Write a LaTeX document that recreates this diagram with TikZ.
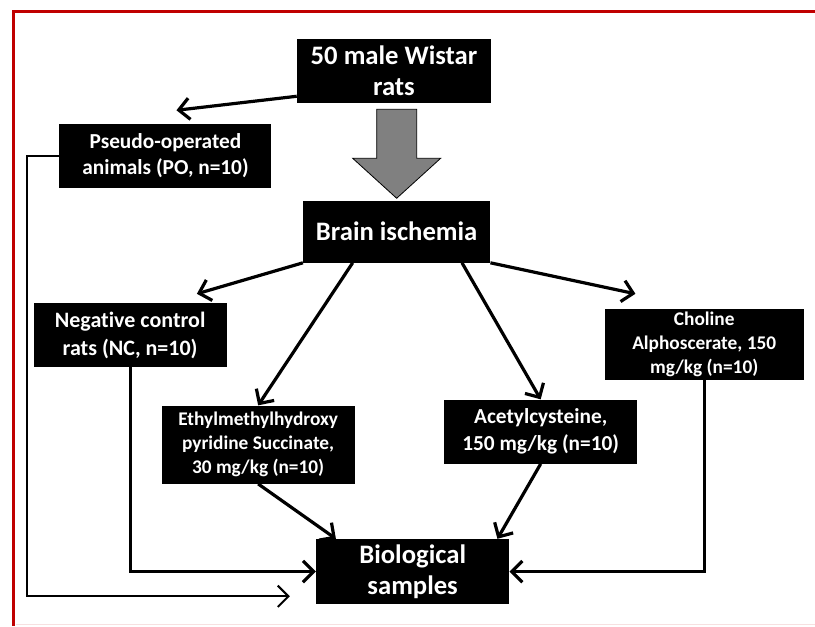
\documentclass[tikz,border=0pt]{standalone}
\usepackage{fontspec}
\setmainfont{Carlito}[Ligatures=NoCommon]
\usepackage{tikz}
\usetikzlibrary{arrows.meta, positioning}
\definecolor{framered}{RGB}{192,0,0}

\begin{document}
\begin{tikzpicture}[
    node distance=0.5cm,
    bigbox/.style={rectangle, fill=black, text=white, minimum width=144.75pt, minimum height=48pt, inner sep=1pt, align=center, font=\bfseries\fontsize{20}{23.5}\selectfont},
    groupbox/.style={rectangle, fill=black, text=white, minimum width=144.75pt, minimum height=48pt, inner sep=1pt, align=center, font=\bfseries\fontsize{16}{20}\selectfont},
    dosebox/.style={rectangle, fill=black, text=white, minimum width=144.75pt, minimum height=48pt, inner sep=1pt, align=center, font=\bfseries\fontsize{14.5}{18}\selectfont},
    arrow/.style={-{Straight Barb[length=8pt, width=16pt]}, line width=2.4pt}
  ]
    \useasboundingbox (0,0) rectangle (611.25pt,-469.5pt);

    % Frame
    \draw[line width=2.25pt, draw=framered] (611.25pt,-8.25pt) -- (10.1pt,-8.25pt) -- (10.1pt,-469.5pt);
    \draw[line width=0.75pt, draw=framered!12] (12pt,-468pt) -- (611.25pt,-468pt);

    % Main boxes
    \node[bigbox, minimum width=145.5pt] (rats) at (295.5pt,-53.25pt) {50 male Wistar\\rats};
    \node[bigbox, minimum width=140.25pt, minimum height=46.5pt, below=72.75pt of rats, xshift=2pt] (brain) {Brain ischemia};
    \node[bigbox, minimum height=48.75pt, below=207pt of brain, xshift=12pt] (bio) {Biological\\samples};

    % Groups
    \node[groupbox, minimum width=159pt, below left=15pt and 18.75pt of rats] (po) {Pseudo-operated\\animals (PO, n=10)};
    \node[groupbox, font=\bfseries\fontsize{16.5}{21}\selectfont, below left=30pt and 57pt of brain] (nc) {Negative control\\rats (NC, n=10)};
    \node[dosebox, minimum width=149.25pt, minimum height=53.25pt, below right=34.5pt and 85.5pt of brain] (ca) {Choline\\Alphoscerate, 150\\mg/kg (n=10)};
    \node[dosebox, minimum height=58.5pt, below=28.5pt of nc, xshift=96pt] (emhps) {Ethylmethylhydroxy\\pyridine Succinate,\\30 mg/kg (n=10)};
    \node[groupbox, right=66.75pt of emhps, yshift=9.75pt] (acc) {Acetylcysteine,\\150 mg/kg (n=10)};

    % Block arrow
    \coordinate (tip) at ([yshift=1.5pt]brain.north);
    \draw[fill=gray, line width=0.6pt] (tip) -- ++(-33pt,30pt) -- ++(18pt,0) -- ++(0,36.75pt) -- ++(30pt,0) -- ++(0,-36.75pt) -- ++(18pt,0) -- cycle;

    % Arrows
    \draw[arrow] ([yshift=5.25pt]rats.south west) -- ([shift={(8.25pt,9.75pt)}]po.north);
    \draw[arrow, line width=1.5pt] (po.west) -- ++(-24pt,0) |- ([shift={(-19.5pt,6pt)}]bio.south west);

    \draw[arrow] (brain.south west) -- ([shift={(-22.5pt,6.75pt)}]nc.north east);
    \draw[arrow] ([xshift=-33pt]brain.south) -- (emhps.north);
    \draw[arrow] ([xshift=49pt]brain.south) -- (acc.north);
    \draw[arrow] (brain.south east) -- ([shift={(23.25pt,11.25pt)}]ca.north west);

    \draw[arrow] (nc.south) |- (bio.west);
    \draw[arrow] (emhps.south) -- ([xshift=15pt]bio.north west);
    \draw[arrow] (acc.south) -- ([xshift=-9pt]bio.north east);
    \draw[arrow] (ca.south) |- (bio.east);
  \end{tikzpicture}
\end{document}
